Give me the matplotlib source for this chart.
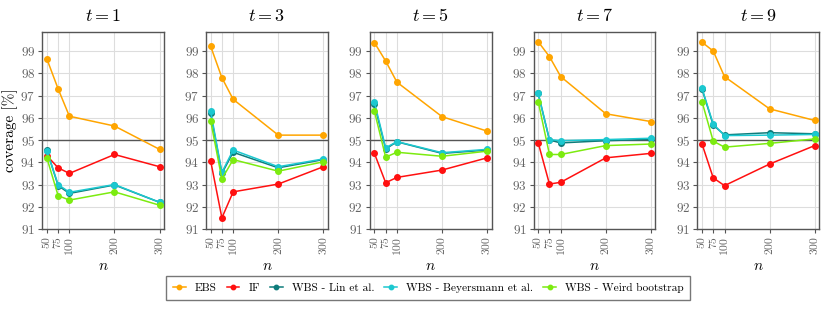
import numpy as np
import matplotlib.pyplot as plt

plt.rcParams['font.family'] = 'serif'
plt.rcParams['font.serif'] = ['cmr10']
plt.rcParams['mathtext.fontset'] = 'cm'
plt.rcParams['axes.formatter.use_mathtext'] = True

n_values = [50, 75, 100, 200, 300]
times = [1, 3, 5, 7, 9]
methods = ['EBS', 'IF', 'WBS - Lin et al.', 'WBS - Beyersmann et al.', 'WBS - Weird bootstrap']
colors = ['#FFA500', '#FF1010', '#0E7C7B', '#1CC8D0', '#7CEB10']

# coverage [%] per time point, one list per method (same order as methods)
cov_t1 = [[98.65, 97.3, 96.07, 95.63, 94.58],
          [94.3, 93.75, 93.5, 94.35, 93.8],
          [94.55, 92.95, 92.6, 92.98, 92.2],
          [94.5, 93.0, 92.65, 93.0, 92.2],
          [94.2, 92.5, 92.3, 92.67, 92.07]]
cov_t3 = [[99.22, 97.8, 96.83, 95.22, 95.22],
          [94.07, 91.5, 92.67, 93.02, 93.8],
          [96.2, 93.5, 94.45, 93.75, 94.12],
          [96.3, 93.55, 94.55, 93.8, 94.15],
          [95.87, 93.25, 94.12, 93.6, 94.02]]
cov_t5 = [[99.38, 98.55, 97.6, 96.05, 95.4],
          [94.4, 93.08, 93.32, 93.65, 94.2],
          [96.6, 94.6, 94.92, 94.4, 94.55],
          [96.7, 94.65, 94.93, 94.43, 94.58],
          [96.3, 94.23, 94.45, 94.27, 94.5]]
cov_t7 = [[99.42, 98.75, 97.85, 96.18, 95.83],
          [94.88, 93.02, 93.1, 94.2, 94.4],
          [97.1, 95.0, 94.87, 94.97, 95.03],
          [97.1, 95.02, 94.97, 95.02, 95.08],
          [96.73, 94.35, 94.35, 94.75, 94.82]]
cov_t9 = [[99.4, 99.0, 97.85, 96.4, 95.88],
          [94.83, 93.3, 92.95, 93.92, 94.75],
          [97.3, 95.67, 95.23, 95.33, 95.28],
          [97.33, 95.72, 95.2, 95.22, 95.25],
          [96.73, 94.95, 94.68, 94.85, 95.05]]
coverages = [cov_t1, cov_t3, cov_t5, cov_t7, cov_t9]

fig, axes = plt.subplots(1, 5, figsize=(8.3, 3.12), dpi=100)
fig.subplots_adjust(left=0.051, right=0.987, top=0.897, bottom=0.266, wspace=0.345)

for ax, t, cov in zip(axes, times, coverages):
    ax.axhline(95, color='#555555', lw=1.0, zorder=1)
    for vals, lab, col in zip(cov, methods, colors):
        ax.plot(n_values, vals, '-o', color=col, lw=1.1, ms=4, label=lab, zorder=3)
    ax.set_title(r'$t = %d$' % t, fontsize=13, pad=8)
    ax.set_xlim(40, 310)
    ax.set_ylim(91, 99.85)
    ax.set_xticks(n_values)
    ax.set_xticklabels([str(v) for v in n_values], rotation=90)
    ax.set_yticks(range(91, 100))
    ax.grid(True, color='#dddddd', lw=0.8, zorder=0)
    ax.set_axisbelow(True)
    ax.tick_params(colors='#555555', length=3, width=0.8, labelcolor='#666666', pad=2)
    ax.tick_params(axis='y', labelsize=9.5)
    ax.tick_params(axis='x', labelsize=8.5)
    for sp in ax.spines.values():
        sp.set_color('#555555')
        sp.set_linewidth(1.0)
    ax.set_xlabel(r'$n$', fontsize=11, labelpad=4)

axes[0].set_ylabel('coverage [%]', fontsize=11, labelpad=2)

handles, labels = axes[0].get_legend_handles_labels()
fig.legend(handles, labels, loc='lower center', bbox_to_anchor=(0.516, 0.02), ncol=5,
           fontsize=8.2, frameon=True, fancybox=False, edgecolor='#555555', markerscale=0.8,
           handlelength=1.1, handletextpad=0.8, columnspacing=0.9, borderpad=0.6)

plt.savefig('out.png', dpi=100)
